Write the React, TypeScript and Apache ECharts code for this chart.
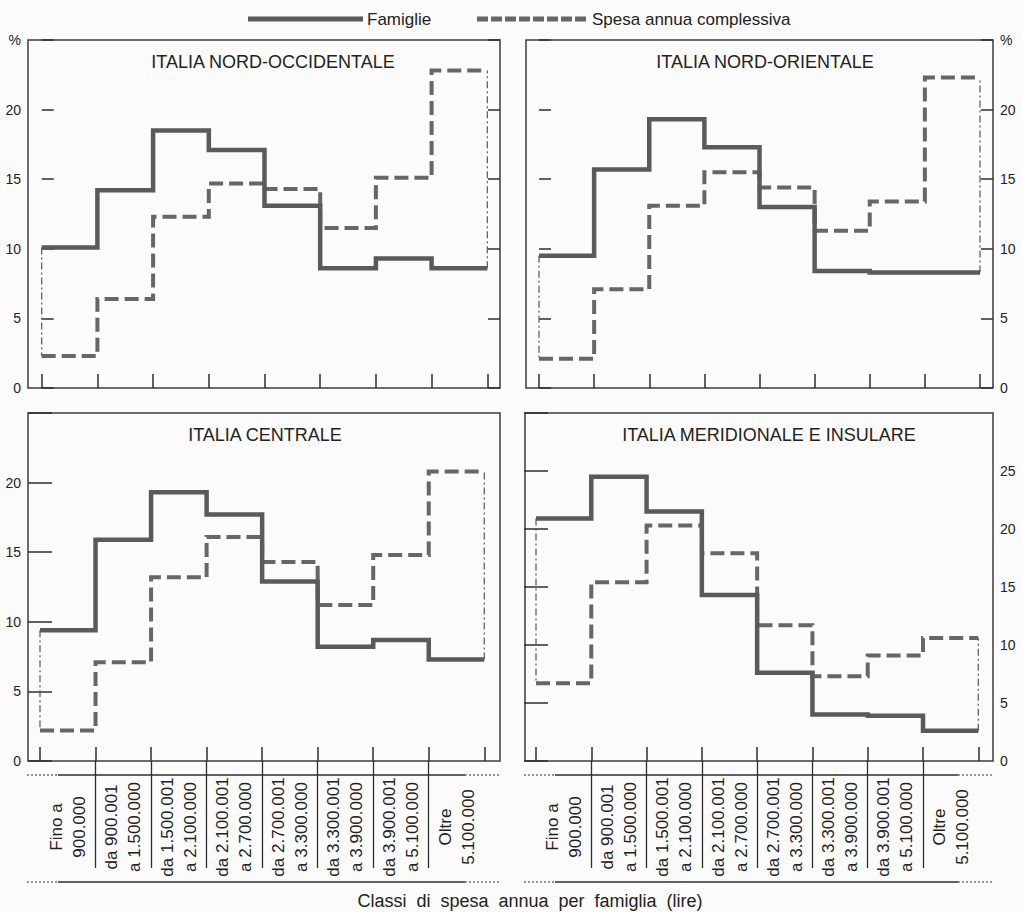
import React, { useEffect, useRef } from "react";
import * as echarts from "echarts";

// ---- Data ----
const categories = [
  "Fino a\n900.000",
  "da 900.001\na 1.500.000",
  "da 1.500.001\na 2.100.000",
  "da 2.100.001\na 2.700.000",
  "da 2.700.001\na 3.300.000",
  "da 3.300.001\na 3.900.000",
  "da 3.900.001\na 5.100.000",
  "Oltre\n5.100.000",
];
const seriesNames = ["Famiglie", "Spesa annua complessiva"];
const regions = [
  "ITALIA NORD-OCCIDENTALE",
  "ITALIA NORD-ORIENTALE",
  "ITALIA CENTRALE",
  "ITALIA MERIDIONALE E INSULARE",
];
const famNO = [10.1, 14.2, 18.5, 17.1, 13.1, 8.6, 9.3, 8.6];
const spesaNO = [2.3, 6.4, 12.3, 14.7, 14.3, 11.5, 15.1, 22.8];
const famNE = [9.5, 15.7, 19.3, 17.3, 13.0, 8.4, 8.3, 8.3];
const spesaNE = [2.1, 7.1, 13.1, 15.5, 14.4, 11.3, 13.4, 22.3];
const famC = [9.4, 15.9, 19.3, 17.7, 12.9, 8.2, 8.7, 7.3];
const spesaC = [2.2, 7.1, 13.2, 16.1, 14.3, 11.2, 14.8, 20.8];
const famM = [20.9, 24.5, 21.5, 14.3, 7.6, 4.0, 3.9, 2.6];
const spesaM = [6.7, 15.4, 20.3, 17.9, 11.7, 7.3, 9.1, 10.6];
const yMaxTop = 25;
const yMaxM = 30;
const yInterval = 5;
const xAxisTitle = "Classi  di  spesa  annua  per  famiglia  (lire)";

const FONT = '"Liberation Sans", Arial, Helvetica, sans-serif';
const INK = "#2e2e2e";
const LINE = "#5a5a5a";

type Panel = {
  title: string;
  fam: number[];
  spesa: number[];
  ymax: number;
  grid: { left: number; top: number; width: number; height: number };
  side: "left" | "right";
  topLabel: string;
  titleX: number;
  titleY: number;
  xmin: number;
  xmax: number;
  table: boolean;
};

const panels: Panel[] = [
  { title: regions[0], fam: famNO, spesa: spesaNO, ymax: yMaxTop, grid: { left: 28, top: 40, width: 472, height: 348 }, side: "left", topLabel: "%", titleX: 273, titleY: 62, xmin: -0.246, xmax: 8.228, table: false },
  { title: regions[1], fam: famNE, spesa: spesaNE, ymax: yMaxTop, grid: { left: 526, top: 40, width: 467, height: 348 }, side: "right", topLabel: "%", titleX: 765, titleY: 62, xmin: -0.236, xmax: 8.236, table: false },
  { title: regions[2], fam: famC, spesa: spesaC, ymax: yMaxTop, grid: { left: 28, top: 413, width: 472, height: 348 }, side: "left", topLabel: "", titleX: 265, titleY: 435, xmin: -0.216, xmax: 8.283, table: true },
  { title: regions[3], fam: famM, spesa: spesaM, ymax: yMaxM, grid: { left: 525, top: 413, width: 468, height: 348 }, side: "right", topLabel: "", titleX: 769, titleY: 435, xmin: -0.199, xmax: 8.266, table: true },
];

function buildOption() {
  const grid: any[] = [];
  const xAxis: any[] = [];
  const yAxis: any[] = [];
  const series: any[] = [];
  const graphic: any[] = [];
  const edges = categories.map((_, i) => i).concat([categories.length]);
  const inner = edges.slice(1, -1);
  const centers = categories.map((_, i) => i + 0.5);

  panels.forEach((p, pi) => {
    grid.push({
      ...p.grid,
      show: true,
      borderColor: "#3c3c3c",
      borderWidth: 1.5,
      backgroundColor: "transparent",
      containLabel: false,
    });
    xAxis.push({
      type: "value",
      gridIndex: pi,
      min: p.xmin,
      max: p.xmax,
      axisLine: { show: false },
      axisTick: { show: true, inside: true, length: 14, customValues: edges, lineStyle: { color: INK, width: 1.5 } },
      axisLabel: { show: false },
      splitLine: { show: false },
    });
    const fmt = (v: number) => {
      if (v === p.ymax) return p.topLabel;
      return String(v);
    };
    ["left", "right"].forEach((pos) => {
      yAxis.push({
        type: "value",
        gridIndex: pi,
        position: pos,
        min: 0,
        max: p.ymax,
        interval: yInterval,
        axisLine: { show: false },
        axisTick: { show: true, inside: true, length: 12, lineStyle: { color: INK, width: 1.5 } },
        axisLabel: {
          show: pos === p.side,
          formatter: fmt,
          margin: 7,
          fontSize: 14,
          fontFamily: FONT,
          color: "#222",
          showMaxLabel: true,
          showMinLabel: true,
        },
        splitLine: { show: false },
      });
    });
    const yi = pi * 2;
    const famData = p.fam.map((v, i) => [i, v]).concat([[p.fam.length, p.fam[p.fam.length - 1]]]);
    const spData = p.spesa.map((v, i) => [i, v]).concat([[p.spesa.length, p.spesa[p.spesa.length - 1]]]);
    series.push({
      type: "line",
      name: seriesNames[1],
      xAxisIndex: pi,
      yAxisIndex: yi,
      data: spData,
      step: "end",
      symbol: "none",
      lineStyle: { color: "#666", width: 4, type: [14, 6], join: "miter", cap: "butt" },
      z: 3,
    });
    series.push({
      type: "line",
      name: seriesNames[0],
      xAxisIndex: pi,
      yAxisIndex: yi,
      data: famData,
      step: "end",
      symbol: "none",
      lineStyle: { color: LINE, width: 4.5, type: "solid", join: "miter", cap: "butt" },
      z: 4,
    });
    const n = p.fam.length;
    [[0, p.fam[0], p.spesa[0]], [n, p.fam[n - 1], p.spesa[n - 1]]].forEach(([x, a, b]) => {
      series.push({
        type: "line",
        name: "edge",
        xAxisIndex: pi,
        yAxisIndex: yi,
        data: [[x, a], [x, b]],
        symbol: "none",
        lineStyle: { color: "#555", width: 1.2, type: [7, 3, 2, 3] },
        z: 2,
      });
    });
    graphic.push({
      type: "text",
      x: p.titleX,
      y: p.titleY,
      style: { text: p.title, fontSize: 18, fontFamily: FONT, fill: "#222", textAlign: "center", textVerticalAlign: "middle" },
    });
  });

  // category label axes with table separators (bottom panels)
  panels.forEach((p, pi) => {
    if (!p.table) return;
    xAxis.push({
      type: "value",
      gridIndex: pi,
      position: "bottom",
      offset: 14,
      min: p.xmin,
      max: p.xmax,
      axisLine: { show: false },
      axisTick: { show: true, inside: false, length: 107, customValues: inner, lineStyle: { color: INK, width: 1.3 } },
      axisLabel: {
        show: true,
        customValues: centers,
        formatter: (v: number) => categories[Math.floor(v)],
        rotate: 90,
        align: "center",
        verticalAlign: "middle",
        margin: 52,
        fontSize: 17,
        lineHeight: 23,
        fontFamily: FONT,
        color: "#222",
      },
      splitLine: { show: false },
    });
    const L = p.grid.left;
    const R = p.grid.left + p.grid.width;
    const ys = [p.grid.top + p.grid.height + 14, p.grid.top + p.grid.height + 121];
    ys.forEach((y) => {
      graphic.push({ type: "line", shape: { x1: L - 1, y1: y, x2: L + 30, y2: y }, style: { stroke: INK, lineWidth: 1.2, lineDash: [2, 2] } });
      graphic.push({ type: "line", shape: { x1: L + 30, y1: y, x2: R - 35, y2: y }, style: { stroke: INK, lineWidth: 1.3 } });
      graphic.push({ type: "line", shape: { x1: R - 35, y1: y, x2: R, y2: y }, style: { stroke: INK, lineWidth: 1.2, lineDash: [2, 2] } });
    });
  });

  // legend
  graphic.push({ type: "line", shape: { x1: 248, y1: 19, x2: 363, y2: 19 }, style: { stroke: LINE, lineWidth: 5 } });
  graphic.push({ type: "text", x: 367, y: 19, style: { text: seriesNames[0], fontSize: 17, fontFamily: FONT, fill: "#222", textAlign: "left", textVerticalAlign: "middle" } });
  graphic.push({ type: "line", shape: { x1: 477, y1: 19, x2: 587, y2: 19 }, style: { stroke: "#666", lineWidth: 5, lineDash: [11, 3] } });
  graphic.push({ type: "text", x: 592, y: 19, style: { text: seriesNames[1], fontSize: 17, fontFamily: FONT, fill: "#222", textAlign: "left", textVerticalAlign: "middle" } });
  // x axis title
  graphic.push({ type: "text", x: 530, y: 901, style: { text: xAxisTitle, fontSize: 18, fontFamily: FONT, fill: "#222", textAlign: "center", textVerticalAlign: "middle" } });

  return {
    animation: false,
    backgroundColor: "#fbfbfb",
    textStyle: { fontFamily: FONT },
    grid,
    xAxis,
    yAxis,
    series,
    graphic,
  };
}

export default function App() {
  const ref = useRef<HTMLDivElement>(null);
  useEffect(() => {
    if (!ref.current) return;
    const chart = echarts.init(ref.current, undefined, { renderer: "svg" });
    chart.setOption(buildOption() as any);
    return () => chart.dispose();
  }, []);
  return (
    <div
      ref={ref}
      style={{ position: "fixed", left: 0, top: 0, width: 1023, height: 912, background: "#fbfbfb" }}
    />
  );
}
